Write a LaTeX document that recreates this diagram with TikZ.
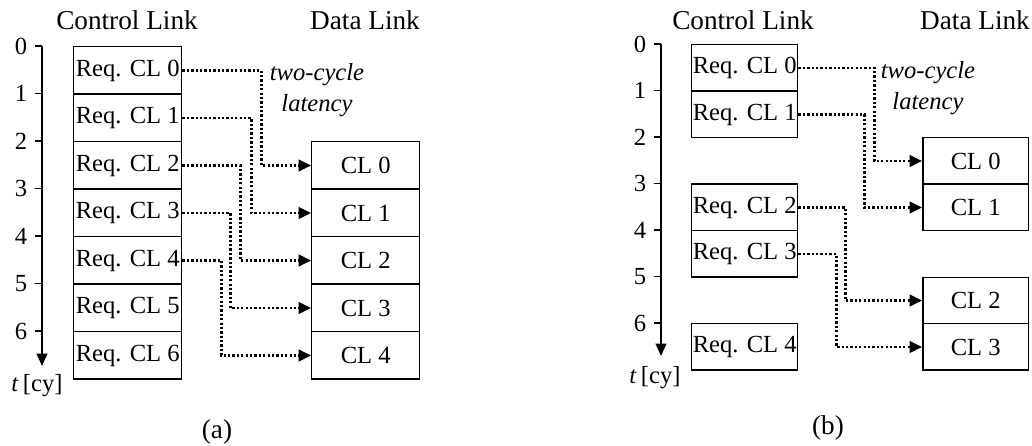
\documentclass[tikz,border=0pt]{standalone}
\usepackage{fontspec}
\setmainfont{Liberation Serif}
\usetikzlibrary{positioning,arrows.meta}

\tikzset{
  slot/.style={draw, line width=0.85pt, minimum width=2.16cm, minimum height=0.95cm,
    inner sep=0pt, anchor=north west, font=\fontsize{14}{16}\selectfont},
  lat/.style={line width=1.5pt, dash pattern=on 1.3pt off 1.2pt,
    -{Triangle[length=7pt,width=6.5pt]}},
  tline/.style={line width=1.1pt, -{Triangle[length=7pt,width=6pt]}},
  lbl/.style={font=\fontsize{14}{16}\selectfont},
  head/.style={font=\fontsize{15.5}{18}\selectfont}
}

\begin{document}
\begin{tikzpicture}[x=0.02cm,y=-0.02cm]
\useasboundingbox (0,0) rectangle (1032,446);

% (a) all requests back to back
\draw[tline] (42,46) -- (42,366);
\foreach \i in {0,...,6} {
  \draw[line width=1.1pt] (35,46+47.5*\i) -- (42,46+47.5*\i);
  \node[lbl] (ta\i) at (21,46+47.5*\i) {\i};
  \node[slot] (ra\i) at (73,46+47.5*\i) {Req. CL \i};
}
\foreach \i in {0,...,4}
  \node[slot] (da\i) at (311,141+47.5*\i) {CL \i};

\node[head] (cla) at (127,20) {Control Link};
\node[head] (dla) at (365,20) {Data Link};
\node[lbl] (lata) at (317,75) {\textit{two-cycle}};
\node[lbl] (latb) at (317,106) {\textit{latency}};
\node[lbl] (tya) at (37,386) {\textit{t}\,[cy]};
\node[head] (capa) at (217,432) {(a)};

\foreach \i/\dx in {0/79,1/69,2/58,3/48,4/39}
  \draw[lat] (ra\i.east) -- ++(\dx,0) |- (da\i.west);

% (b) requests with gaps
\begin{scope}[slot/.append style={minimum width=2.12cm, minimum height=0.93cm}]
\draw[tline] (661,44) -- (661,356);
\foreach \i in {0,...,6} {
  \draw[line width=1.1pt] (654,44+46.5*\i) -- (661,44+46.5*\i);
  \node[lbl] (tb\i) at (640,44+46.5*\i) {\i};
}
\foreach \i/\r in {0/0,1/1,2/3,3/4,4/6}
  \node[slot] (rb\i) at (691,44+46.5*\r) {Req. CL \i};
\foreach \i/\r in {0/2,1/3,2/5,3/6}
  \node[slot] (db\i) at (922,44+46.5*\r) {CL \i};

\node[head] (clb) at (743,20) {Control Link};
\node[head] (dlb) at (975,20) {Data Link};
\node[lbl] (latc) at (928,73) {\textit{two-cycle}};
\node[lbl] (latd) at (928,104) {\textit{latency}};
\node[lbl] (tyb) at (655,378) {\textit{t}\,[cy]};
\node[head] (capb) at (828,428) {(b)};

\foreach \i/\dx in {0/76,1/66,2/47,3/38}
  \draw[lat] (rb\i.east) -- ++(\dx,0) |- (db\i.west);
\end{scope}
\end{tikzpicture}
\end{document}
